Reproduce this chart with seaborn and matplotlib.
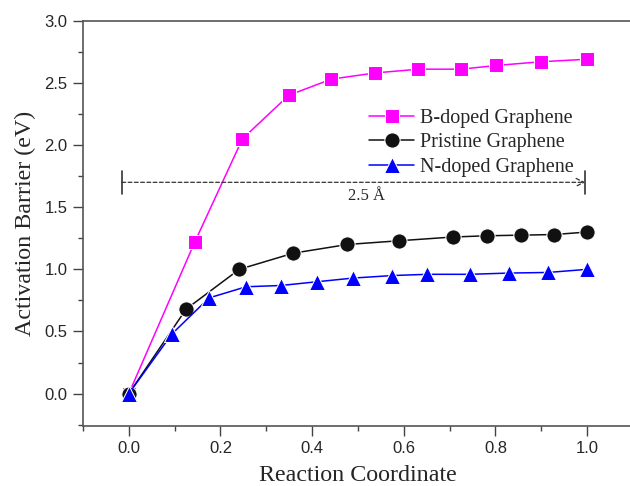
import numpy as np
import pandas as pd
import seaborn as sns
import matplotlib.pyplot as plt
from matplotlib.ticker import MultipleLocator, FormatStrFormatter

# values
b_x = [0.0, 0.144, 0.248, 0.349, 0.442, 0.538, 0.632, 0.725, 0.802, 0.900, 1.0]
b_y = [0.0, 1.22, 2.05, 2.40, 2.53, 2.58, 2.61, 2.61, 2.64, 2.67, 2.69]

p_x = [0.0, 0.125, 0.241, 0.359, 0.477, 0.590, 0.707, 0.781, 0.855, 0.928, 1.0]
p_y = [0.0, 0.68, 1.00, 1.13, 1.20, 1.23, 1.26, 1.27, 1.275, 1.28, 1.30]

n_x = [0.0, 0.094, 0.175, 0.256, 0.332, 0.410, 0.490, 0.575, 0.651, 0.744, 0.829, 0.915, 1.0]
n_y = [0.0, 0.48, 0.77, 0.86, 0.87, 0.90, 0.93, 0.95, 0.96, 0.96, 0.97, 0.975, 1.00]

labels = ["B-doped Graphene", "Pristine Graphene", "N-doped Graphene"]

sns.set_style("ticks")
plt.rcParams['font.family'] = ['Liberation Sans', 'DejaVu Sans']
serif = ["Liberation Serif", "DejaVu Serif"]

fig = plt.figure(figsize=(6.3, 4.86), dpi=100)
ax = fig.add_axes([0.1317, 0.1235, 0.873, 0.8339])

b_df = pd.DataFrame({"x": b_x, "y": b_y})
p_df = pd.DataFrame({"x": p_x, "y": p_y})
n_df = pd.DataFrame({"x": n_x, "y": n_y})

sns.lineplot(data=b_df, x="x", y="y", ax=ax, color="#ff00ff", marker="s",
             markersize=9.5, lw=1.1, label=labels[0], sort=False)
sns.lineplot(data=p_df, x="x", y="y", ax=ax, color="#111111", marker="o",
             markersize=11, lw=1.1, label=labels[1], sort=False)
sns.lineplot(data=n_df, x="x", y="y", ax=ax, color="#0000ff", marker="^",
             markersize=11, lw=1.1, label=labels[2], sort=False)

# 2.5 A distance marker
ax.annotate("", xy=(0.996, 1.70), xytext=(-0.015, 1.70),
            arrowprops=dict(arrowstyle="->", linestyle=(0, (3, 2)), color="#333333",
                            lw=0.9, shrinkA=0, shrinkB=0, mutation_scale=14))
ax.plot([-0.015, -0.015], [1.61, 1.79], color="#333333", lw=1.2)
ax.plot([0.996, 0.996], [1.61, 1.79], color="#333333", lw=1.2)
ax.text(0.518, 1.59, "2.5 Å", ha="center", va="center", fontsize=12, family=serif)

ax.set_xlim(-0.1, 1.1)
ax.set_ylim(-0.26, 3.0)
ax.xaxis.set_major_locator(MultipleLocator(0.2))
ax.xaxis.set_minor_locator(MultipleLocator(0.1))
ax.yaxis.set_major_locator(MultipleLocator(0.5))
ax.yaxis.set_minor_locator(MultipleLocator(0.25))
ax.xaxis.set_major_formatter(FormatStrFormatter('%.1f'))
ax.yaxis.set_major_formatter(FormatStrFormatter('%.1f'))
ax.tick_params(which="major", length=7, width=1, color="#444444", labelsize=12, pad=4)
ax.tick_params(which="minor", length=3.5, width=1, color="#444444")

for s in ["left", "top", "bottom"]:
    ax.spines[s].set_color("#555555")
    ax.spines[s].set_linewidth(1.2)
ax.spines["right"].set_visible(False)

ax.set_xlabel("Reaction Coordinate", fontsize=17.3, family=serif, labelpad=6)
ax.set_ylabel("Activation Barrier (eV)", fontsize=17.3, family=serif, labelpad=6)

ax.legend(loc="upper left", bbox_to_anchor=(0.52, 0.783), frameon=False,
          prop={"family": "Liberation Serif", "size": 14.5}, handlelength=2.25,
          handletextpad=0.3, labelspacing=0.28, borderpad=0, borderaxespad=0)

plt.savefig("out.png", dpi=100)
plt.close()
